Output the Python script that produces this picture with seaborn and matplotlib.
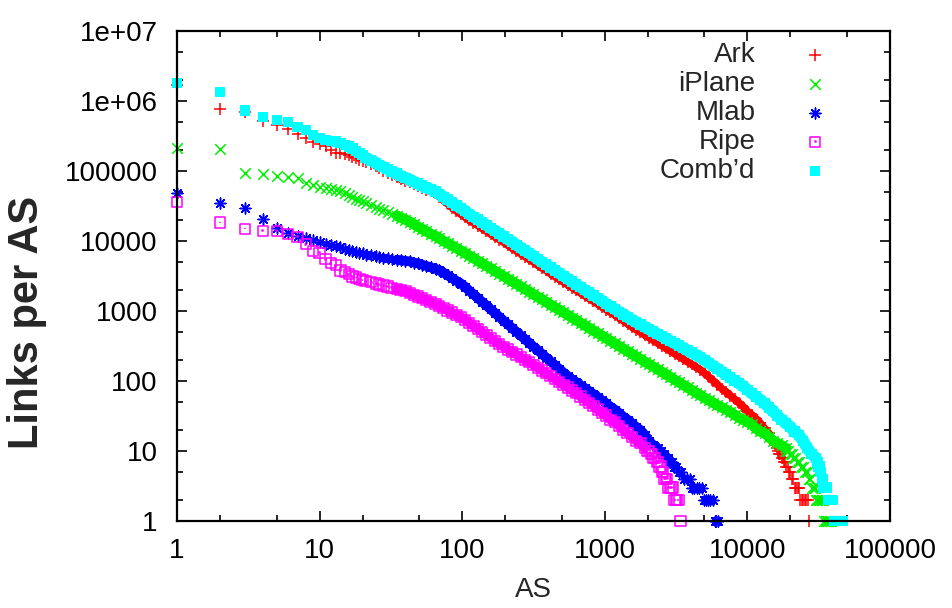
import matplotlib
matplotlib.use("Agg")
import matplotlib.pyplot as plt
import seaborn as sns
from matplotlib.path import Path
from matplotlib.ticker import FixedLocator, FixedFormatter, LogLocator, NullFormatter

# ---------------------------------------------------------------- data
series_names = ["Ark", "iPlane", "Mlab", "Ripe", "Comb\u2019d"]

# ranks shared by all curves: the first twenty ASes one by one, then a log-spaced set
head_rank = list(range(1, 21))
grid_rank = [21, 23, 25, 26, 28, 30, 32, 35, 37, 40, 43, 46, 49, 52, 56, 60, 65, 69, 74, 79,
             85, 91, 98, 105, 112, 120, 129, 138, 148, 158, 170, 182, 195, 209, 224, 240,
             257, 275, 295, 316, 339, 363, 389, 417, 447, 479, 513, 550, 589, 631, 676,
             724, 776, 832, 891, 955, 1023, 1096, 1175, 1259, 1349, 1445, 1549, 1660, 1778,
             1905, 2042, 2188, 2344, 2512, 2692, 2884, 3090, 3311, 3548, 3802, 4074, 4365,
             4677, 5012, 5370, 5754, 6166, 6607, 7079, 7586, 8128, 8710, 9333, 10000,
             10715, 11482, 12303, 13183, 14125, 15136, 16218, 17378, 18621, 19953, 21380,
             22909, 24547, 26303, 28184, 30200]

# Ark
ark_head = [1.7e6, 7.6e5, 6.9e5, 5.1e5, 4.6e5, 4.0e5, 3.4e5, 3.0e5, 2.6e5, 2.45e5,
            2.3e5, 2.0e5, 1.82e5, 1.78e5, 1.74e5, 1.68e5, 1.58e5, 1.51e5, 1.43e5, 1.41e5]
ark_grid = [1.35e5, 1.26e5, 1.17e5, 1.09e5, 1.01e5, 9.4e4, 8.8e4, 8.2e4, 7.6e4, 7.3e4,
            6.9e4, 6.6e4, 6.2e4, 5.8e4, 5.4e4, 5.1e4, 4.8e4, 4.3e4, 3.8e4, 3.4e4,
            3.0e4, 2.69e4, 2.41e4, 2.19e4, 1.99e4, 1.82e4, 1.66e4, 1.51e4, 1.38e4, 1.26e4,
            1.15e4, 1.05e4, 9.6e3, 8.7e3, 7.9e3, 7.2e3, 6.6e3, 6.0e3, 5.5e3, 5.0e3,
            4.5e3, 4.1e3, 3.8e3, 3.4e3, 3.1e3, 2.85e3, 2.59e3, 2.37e3, 2.16e3, 1.98e3,
            1.81e3, 1.65e3, 1.51e3, 1.38e3, 1.26e3, 1.15e3, 1.05e3, 957, 877, 802,
            726, 658, 594, 543, 497, 455, 417, 381, 349, 320,
            293, 268, 245, 225, 206, 188, 173, 158, 145, 129,
            114, 101, 89, 78, 70, 62, 55, 49, 43, 37,
            33, 29, 25, 21, 18, 14]
ark_tail_rank = [15700, 16000, 16300, 16700, 17000, 17400, 17700, 18100, 18400, 18800,
                 19200, 19600, 20000, 20500, 21000, 21500, 22000, 22500, 23000, 23500,
                 24000, 24600, 25200, 25800, 26400, 27000]
ark_tail = [12, 11, 10, 9, 9, 8, 8, 7, 7, 6, 6, 5, 5, 4, 4, 3, 3, 3, 3, 2, 2, 2, 2, 2, 2, 1]

# iPlane
iplane_head = [2.1e5, 2.05e5, 9.3e4, 9.0e4, 8.5e4, 8.1e4, 7.9e4, 6.7e4, 6.3e4, 6.0e4,
               5.8e4, 5.6e4, 5.4e4, 5.1e4, 4.8e4, 4.5e4, 4.2e4, 4.0e4, 3.86e4, 3.67e4]
iplane_grid = [3.47e4, 3.27e4, 3.08e4, 2.90e4, 2.74e4, 2.58e4, 2.43e4, 2.29e4, 2.16e4, 2.02e4,
               1.87e4, 1.73e4, 1.60e4, 1.49e4, 1.37e4, 1.27e4, 1.18e4, 1.09e4, 1.0e4, 9.3e3,
               8.6e3, 7.9e3, 7.3e3, 6.7e3, 6.2e3, 5.7e3, 5.2e3, 4.8e3, 4.4e3, 4.1e3,
               3.7e3, 3.43e3, 3.15e3, 2.89e3, 2.65e3, 2.44e3, 2.24e3, 2.06e3, 1.89e3, 1.73e3,
               1.59e3, 1.46e3, 1.34e3, 1.23e3, 1.13e3, 1.04e3, 955, 877, 805, 740,
               679, 624, 573, 526, 483, 444, 407, 374, 344, 316,
               290, 266, 244, 224, 206, 189, 174, 160, 147, 135,
               124, 114, 104, 96, 88, 81, 74, 68, 63, 57,
               53, 49, 45, 42, 39, 36, 33, 30, 28, 26,
               24, 21, 19, 18, 16, 14, 13, 12, 11]
iplane_tail_rank = [18800, 19300, 19800, 20400, 21000, 21600, 22300, 23000, 23800, 24500,
                    25300, 26100, 27000, 27700, 28500, 29100, 29800, 30400, 31000, 31700,
                    32500, 33200, 34000, 34700, 35500, 36200, 37000, 37700, 38500]
iplane_tail = [10, 10, 9, 9, 8, 8, 7, 7, 6, 6, 5, 5, 4, 4, 3, 3, 3, 2, 2, 2, 2, 2, 2,
               1, 1, 1, 1, 1, 1]

# Mlab
mlab_head = [4.9e4, 3.46e4, 2.93e4, 2.04e4, 1.55e4, 1.29e4, 1.18e4, 1.12e4, 1.02e4, 9.8e3,
             9.2e3, 8.8e3, 8.4e3, 8.1e3, 7.7e3, 7.5e3, 7.2e3, 7.0e3, 6.8e3, 6.7e3]
mlab_grid = [6.4e3, 6.3e3, 6.1e3, 6.0e3, 5.8e3, 5.7e3, 5.6e3, 5.4e3, 5.3e3, 5.2e3,
             5.1e3, 4.9e3, 4.8e3, 4.6e3, 4.4e3, 4.2e3, 4.0e3, 3.83e3, 3.53e3, 3.23e3,
             2.95e3, 2.70e3, 2.47e3, 2.21e3, 1.96e3, 1.73e3, 1.53e3, 1.35e3, 1.20e3, 1.06e3,
             933, 826, 729, 645, 570, 505, 447, 396, 351, 310,
             275, 244, 215, 190, 168, 149, 132, 117, 106, 96,
             87, 79, 72, 65, 59, 53, 48, 43, 39, 35,
             31, 28, 25, 22, 20, 17, 14, 12, 11]
mlab_tail_rank = [2420, 2480, 2530, 2600, 2670, 2760, 2850, 2950, 3050, 3170, 3300, 3450,
                  3600, 3750, 3950, 4100, 4250, 4400, 4600, 4800, 5000, 5150, 5300, 5500,
                  5700, 5900, 6050, 6200]
mlab_tail = [10, 10, 9, 9, 8, 8, 7, 7, 6, 6, 5, 5, 4, 4, 4, 3, 3, 3, 3, 3, 2, 2, 2, 2, 2,
             1, 1, 1]

# Ripe
ripe_head = [3.64e4, 1.83e4, 1.5e4, 1.4e4, 1.4e4, 1.25e4, 1.15e4, 9.0e3, 7.2e3, 6.8e3,
             5.5e3, 4.8e3, 4.5e3, 3.8e3, 3.6e3, 3.36e3, 3.1e3, 3.0e3, 2.85e3, 2.77e3]
ripe_grid = [2.67e3, 2.58e3, 2.48e3, 2.40e3, 2.31e3, 2.23e3, 2.15e3, 2.07e3, 1.99e3, 1.91e3,
             1.80e3, 1.70e3, 1.61e3, 1.52e3, 1.43e3, 1.35e3, 1.27e3, 1.18e3, 1.10e3, 1.02e3,
             948, 881, 820, 748, 678, 612, 555, 502, 454, 411,
             372, 337, 308, 283, 260, 239, 219, 201, 185, 170,
             155, 141, 129, 117, 107, 97, 88, 81, 73, 67,
             60, 54, 49, 44, 39, 35, 32, 28, 26, 23,
             20, 18, 16, 14, 13, 11]
ripe_tail_rank = [1990, 2040, 2100, 2150, 2200, 2260, 2320, 2370, 2420, 2470, 2520, 2570,
                  2620, 2680, 2740, 2800, 2870, 2940, 3010, 3080, 3150, 3220, 3300, 3400]
ripe_tail = [10, 10, 9, 9, 8, 8, 7, 7, 6, 6, 5, 5, 4, 4, 4, 3, 3, 3, 3, 2, 2, 2, 2, 1]

# Combined
combd_head = [1.79e6, 1.34e6, 7.3e5, 5.85e5, 5.35e5, 5.0e5, 4.3e5, 3.85e5, 3.3e5, 2.95e5,
              2.8e5, 2.7e5, 2.63e5, 2.51e5, 2.34e5, 2.24e5, 2.09e5, 1.95e5, 1.80e5, 1.70e5]
combd_grid = [1.55e5, 1.41e5, 1.31e5, 1.22e5, 1.14e5, 1.06e5, 9.8e4, 9.2e4, 8.5e4, 8.0e4,
              7.5e4, 7.0e4, 6.6e4, 6.2e4, 5.8e4, 5.5e4, 5.1e4, 4.7e4, 4.3e4, 3.9e4,
              3.55e4, 3.23e4, 2.93e4, 2.67e4, 2.42e4, 2.21e4, 2.02e4, 1.84e4, 1.68e4, 1.53e4,
              1.40e4, 1.28e4, 1.16e4, 1.06e4, 9.7e3, 8.8e3, 8.0e3, 7.3e3, 6.7e3, 6.1e3,
              5.5e3, 5.0e3, 4.6e3, 4.2e3, 3.8e3, 3.47e3, 3.16e3, 2.88e3, 2.63e3, 2.40e3,
              2.20e3, 2.0e3, 1.83e3, 1.67e3, 1.53e3, 1.40e3, 1.27e3, 1.16e3, 1.07e3, 975,
              893, 818, 748, 692, 640, 593, 549, 508, 471, 436,
              404, 374, 347, 321, 298, 275, 255, 237, 219, 199,
              181, 164, 150, 136, 124, 112, 102, 93, 84, 75,
              67, 60, 54, 48, 42, 37, 32, 28, 25, 22,
              19, 17, 14, 11, 9, 8]
combd_tail_rank = [30600, 31000, 31500, 32000, 32400, 32900, 33300, 33700, 34100, 34600,
                   35100, 35600, 36100, 36600, 37200, 37800, 38400, 39000, 39600, 40300,
                   41000, 41800, 42600, 43400, 44200, 45000, 45900, 46800]
combd_tail = [7, 7, 6, 6, 5, 5, 4, 4, 3, 3, 3, 3, 3, 2, 2, 2, 2, 2, 2, 1, 1, 1, 1, 1, 1,
              1, 1, 1]

x_ticks = [1, 10, 100, 1000, 10000, 100000]
x_tick_labels = ["1", "10", "100", "1000", "10000", "100000"]
y_ticks = [1, 10, 100, 1000, 1e4, 1e5, 1e6, 1e7]
y_tick_labels = ["1", "10", "100", "1000", "10000", "100000", "1e+06", "1e+07"]


def full_curve(head, grid, tail_rank, tail):
    ranks = head_rank + grid_rank[:len(grid)] + tail_rank
    return ranks, head + grid + tail


curves = [
    full_curve(ark_head, ark_grid, ark_tail_rank, ark_tail),
    full_curve(iplane_head, iplane_grid, iplane_tail_rank, iplane_tail),
    full_curve(mlab_head, mlab_grid, mlab_tail_rank, mlab_tail),
    full_curve(ripe_head, ripe_grid, ripe_tail_rank, ripe_tail),
    full_curve(combd_head, combd_grid, combd_tail_rank, combd_tail),
]
grid_lengths = [len(ark_grid), len(iplane_grid), len(mlab_grid), len(ripe_grid),
                len(combd_grid)]

# ---------------------------------------------------------------- style
sns.set_theme(style="ticks")
plt.rcParams["font.family"] = ["Liberation Sans", "DejaVu Sans"]

# open box with a dot in the middle
box_dot = Path(
    [(-1, -1), (1, -1), (1, 1), (-1, 1), (-1, -1),
     (-0.08, -0.08), (0.08, -0.08), (0.08, 0.08), (-0.08, 0.08), (-0.08, -0.08)],
    [Path.MOVETO, Path.LINETO, Path.LINETO, Path.LINETO, Path.CLOSEPOLY,
     Path.MOVETO, Path.LINETO, Path.LINETO, Path.LINETO, Path.CLOSEPOLY],
)

colors = ["#ff0000", "#00ee00", "#0000ff", "#ff00ff", "#00ffff"]
marker_kw = [
    dict(marker="+", s=75, linewidth=1.1),
    dict(marker="x", s=58, linewidth=1.1),
    dict(marker=(8, 2, 0), s=60, linewidth=1.1),
    dict(marker=box_dot, s=55, facecolor="none", edgecolor=colors[3], linewidth=1.1),
    dict(marker="s", s=55, edgecolor="none", linewidth=0),
]
# width (pt) of the solid core where thousands of markers pile up along a curve
core_width = [5.5, 7.5, 7.0, 7.0, 8.5]
# first rank at which the markers merge into a continuous band
core_start = [35, 35, 35, 35, 21]

fig = plt.figure(figsize=(9.52, 6.08), dpi=100)
ax = fig.add_axes([177 / 952, 1 - 521 / 608, (890 - 177) / 952, (521 - 31) / 608])
ax.set_xscale("log")
ax.set_yscale("log")

handles = []
for i, (name, (ranks, links), kw) in enumerate(zip(series_names, curves, marker_kw)):
    start = ranks.index(core_start[i])
    stop = len(head_rank) + grid_lengths[i]
    sns.lineplot(x=ranks[start:stop], y=links[start:stop], ax=ax, color=colors[i],
                 linewidth=core_width[i], sort=False, estimator=None, legend=False,
                 solid_capstyle="round", zorder=2 + i * 0.1)
    sns.scatterplot(x=ranks, y=links, ax=ax, legend=False, color=colors[i],
                    zorder=2.05 + i * 0.1, **kw)
    coll = ax.collections[-1]
    coll.set_clip_on(False)
    handles.append(coll)

ax.set_xlim(1, 1e5)
ax.set_ylim(1, 1e7)

ax.xaxis.set_major_locator(FixedLocator(x_ticks))
ax.xaxis.set_major_formatter(FixedFormatter(x_tick_labels))
ax.yaxis.set_major_locator(FixedLocator(y_ticks))
ax.yaxis.set_major_formatter(FixedFormatter(y_tick_labels))
for axis in (ax.xaxis, ax.yaxis):
    axis.set_minor_locator(LogLocator(base=10, subs=(2.0, 5.0), numticks=20))
    axis.set_minor_formatter(NullFormatter())

ax.tick_params(which="both", direction="in", top=True, right=True,
               color="black", width=1.2)
ax.tick_params(which="major", length=7.5, labelsize=20, labelcolor="black")
ax.tick_params(which="minor", length=4)
ax.tick_params(axis="y", which="major", pad=14)
ax.tick_params(axis="x", which="major", pad=12)

for sp in ax.spines.values():
    sp.set_linewidth(1.6)
    sp.set_color("black")
    sp.set_visible(True)
    sp.set_zorder(5)

ax.set_xlabel("AS", fontsize=20, va="center")
ax.xaxis.set_label_coords(0.5, (521 - 590) / 490)
ax.set_ylabel("Links per AS", fontsize=30, fontweight="bold", va="center")
ax.yaxis.set_label_coords((27 - 177) / 713, (521 - 322) / 490)

leg = ax.legend(handles, series_names, loc="upper right",
                bbox_to_anchor=(829 / 952, 1 - 42 / 608), bbox_transform=fig.transFigure,
                frameon=False, markerfirst=False, handlelength=1.0, handletextpad=1.65,
                labelspacing=0.11, borderpad=0, borderaxespad=0, fontsize=20,
                scatterpoints=1)
# right-align the entries so the labels line up against their markers
for column in leg._legend_handle_box.get_children():
    column.align = "right"

fig.savefig("out.png", dpi=100, facecolor="white")
